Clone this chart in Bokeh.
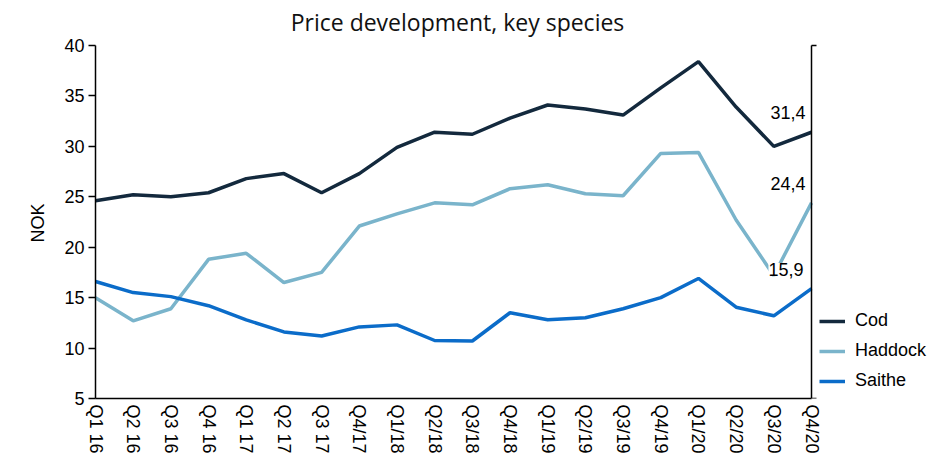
import math
from bokeh.plotting import figure
from bokeh.models import (Range1d, FixedTicker, Legend, LegendItem, Label, Title)
from bokeh.embed import file_html
from bokeh.resources import INLINE

title_text = "Price development, key species"
y_label = "NOK"
quarters = ["Q1 16", "Q2 16", "Q3 16", "Q4 16", "Q1 17", "Q2 17", "Q3 17", "Q4/17",
            "Q1/18", "Q2/18", "Q3/18", "Q4/18", "Q1/19", "Q2/19", "Q3/19", "Q4/19",
            "Q1/20", "Q2/20", "Q3/20", "Q4/20"]
cod = [24.6, 25.2, 25.0, 25.4, 26.8, 27.3, 25.4, 27.3, 29.9, 31.4,
       31.2, 32.8, 34.1, 33.7, 33.1, 35.8, 38.4, 33.9, 30.0, 31.4]
haddock = [15.0, 12.7, 13.9, 18.8, 19.4, 16.5, 17.5, 22.1, 23.3, 24.4,
           24.2, 25.8, 26.2, 25.3, 25.1, 29.3, 29.4, 22.7, 17.2, 24.4]
saithe = [16.6, 15.5, 15.1, 14.2, 12.8, 11.6, 11.2, 12.1, 12.3, 10.75,
          10.7, 13.5, 12.8, 13.0, 13.9, 15.0, 16.9, 14.05, 13.2, 15.9]
y_ticks = [5, 10, 15, 20, 25, 30, 35, 40]
Y_MIN, Y_MAX = 5, 40

COD_C = "#13293d"
HAD_C = "#7ab4cb"
SAI_C = "#0b6cc9"
FONT = "Liberation Sans"

x = list(range(len(quarters)))
last = x[-1]

# layout: the frame spans the whole canvas except the left/bottom axis panels;
# the axes themselves are bounded to the data region (extra room holds title & legend)
W, H = 928, 457
LEFT, BOTTOM = 95, 59
AXIS_W, AXIS_H = 716, 353       # pixel size of the data region
frame_w, frame_h = W - LEFT, H - BOTTOM
x_max = last * frame_w / AXIS_W
y_top = Y_MIN + (Y_MAX - Y_MIN) * frame_h / AXIS_H

p = figure(width=W, height=H, output_backend="svg", toolbar_location=None,
           x_range=Range1d(0, x_max), y_range=Range1d(Y_MIN, y_top),
           min_border_left=LEFT, min_border_right=0, min_border_top=0, min_border_bottom=BOTTOM)
p.background_fill_color = "white"
p.border_fill_color = "white"
p.outline_line_color = None
p.xgrid.grid_line_color = None
p.ygrid.grid_line_color = None

r_cod = p.line(x, cod, line_color=COD_C, line_width=3.5)
r_had = p.line(x, haddock, line_color=HAD_C, line_width=3.5)
r_sai = p.line(x, saithe, line_color=SAI_C, line_width=3.5)

# x axis
xa = p.xaxis[0]
xa.ticker = FixedTicker(ticks=x)
xa.bounds = (0, last)
xa.major_label_overrides = {i: q for i, q in enumerate(quarters)}
xa.major_label_orientation = -math.pi / 2
xa.major_tick_line_color = None
xa.major_tick_out = 0
xa.major_tick_in = 0
xa.minor_tick_line_color = None
xa.major_label_standoff = 6
xa.major_label_text_font = FONT
xa.major_label_text_font_size = "18px"
xa.major_label_text_color = "black"
xa.axis_line_color = "black"
xa.axis_line_width = 1.5

# y axis
ya = p.yaxis[0]
ya.ticker = FixedTicker(ticks=y_ticks)
ya.bounds = (Y_MIN, Y_MAX)
ya.minor_tick_line_color = None
ya.major_tick_in = 0
ya.major_tick_out = 7
ya.major_tick_line_color = "black"
ya.major_tick_line_width = 1.5
ya.major_label_standoff = 4
ya.major_label_text_font = FONT
ya.major_label_text_font_size = "18px"
ya.major_label_text_color = "black"
ya.axis_line_color = "black"
ya.axis_line_width = 1.5

# y-axis title, centred on the data region (not on the taller frame)
p.add_layout(Title(text=y_label, align="left", offset=156, standoff=28,
                   text_font=FONT, text_font_size="18px", text_font_style="normal",
                   text_color="black"), "left")

# secondary (right) axis line with its two outward ticks
p.segment(x0=[last], y0=[Y_MIN], x1=[last], y1=[Y_MAX], line_color="black", line_width=1.5)
p.ray(x=[last, last], y=[Y_MIN, Y_MAX], length=5, length_units="screen", angle=0,
      line_color="black", line_width=1.5)

# title
p.add_layout(Label(x=362, y=frame_h - 21, x_units="screen", y_units="screen",
                   text=title_text, text_align="center", text_baseline="middle",
                   text_font="Open Sans", text_font_size="23px", text_color="#111111"))

# end labels
def fmt(v):
    return f"{v:.1f}".replace(".", ",")

for val, dy, dx, bg in [(cod[-1], 20, -6, None), (haddock[-1], 19, -6, None), (saithe[-1], 19, -8, "white")]:
    lab = Label(x=last, y=val, text=fmt(val), x_offset=dx, y_offset=dy,
                text_align="right", text_baseline="middle", text_font=FONT,
                text_font_size="18px", text_color="black",
                background_fill_color=bg)
    p.add_layout(lab)

legend = Legend(items=[LegendItem(label="Cod", renderers=[r_cod]),
                       LegendItem(label="Haddock", renderers=[r_had]),
                       LegendItem(label="Saithe", renderers=[r_sai])],
                location=(724, 7), padding=0, margin=0, spacing=9,
                glyph_width=26, glyph_height=20, label_height=20, label_standoff=10,
                label_text_font=FONT, label_text_font_size="18px", label_text_color="black",
                border_line_color=None, background_fill_alpha=0)
p.add_layout(legend, "center")

open("out.html", "w").write(file_html(p, INLINE))
